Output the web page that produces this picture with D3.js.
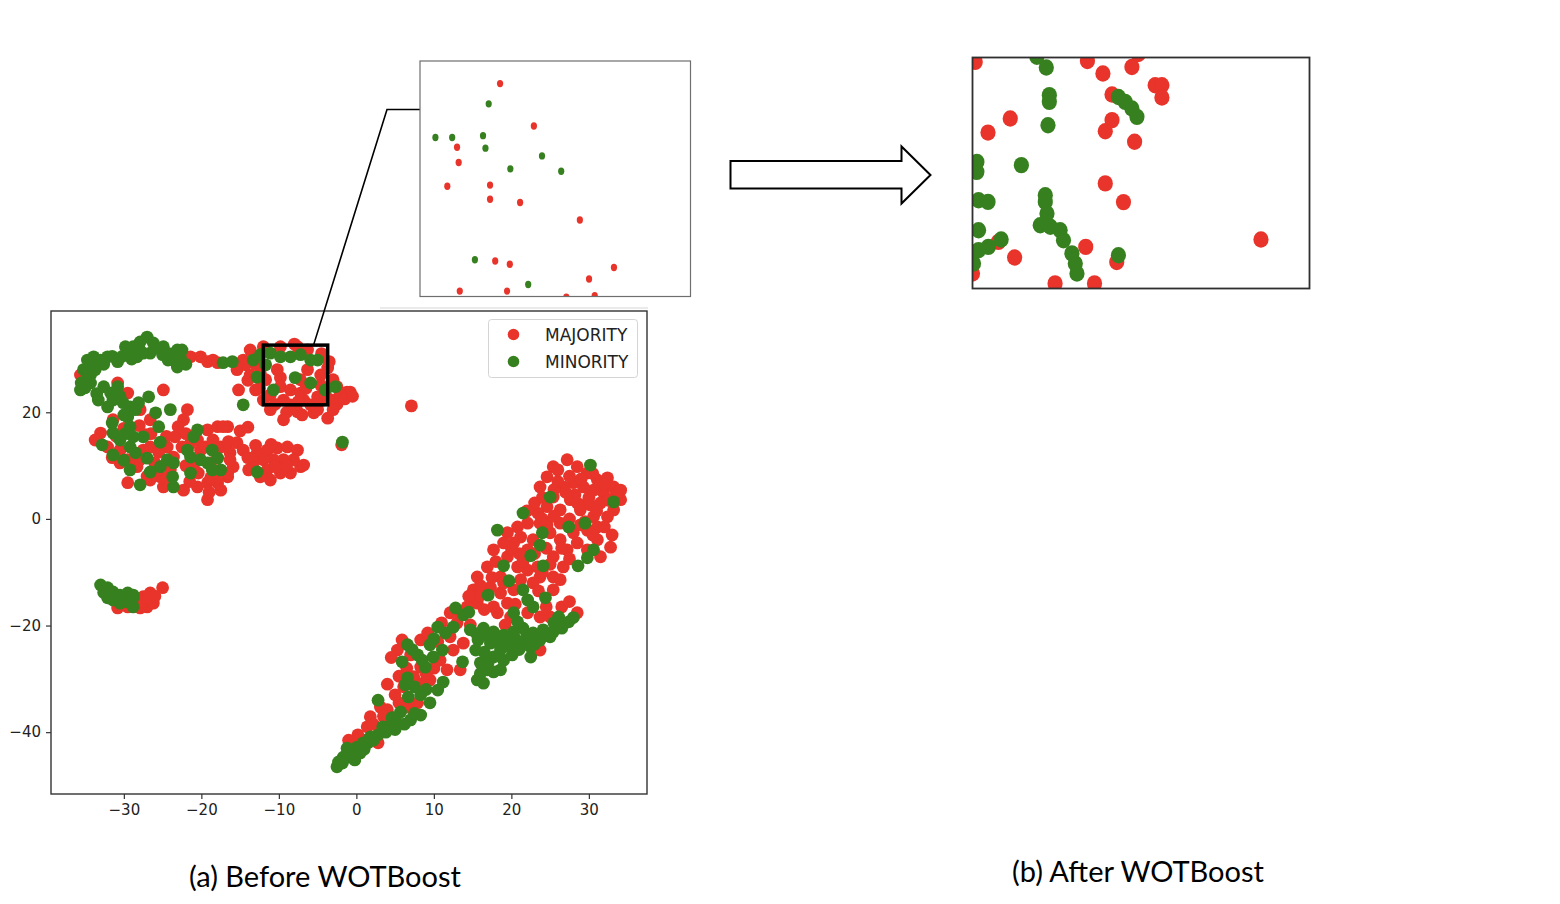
<!DOCTYPE html>
<html>
<head>
<meta charset="utf-8">
<script src="https://cdn.jsdelivr.net/npm/d3@7"></script>
<style>
  body { margin: 0; background: #fff; }
</style>
</head>
<body>
<div id="chart"></div>
<script>
// ---- data (t-SNE coordinates) ----
const majorityPts = [
  // upper-left cluster, top arc
  [-35.6, 27.0], [-21.4, 30.4], [-20.1, 30.4], [-19.2, 29.5], [-17.9, 29.3], [-18.5, 29.8],
  [-15.4, 28.0], [-14.6, 29.8], [-13.7, 31.7],
  // right lobe
  [-15.2, 24.2], [-12.0, 32.3], [-9.8, 32.3], [-7.6, 32.3], [-6.3, 31.7], [-12.4, 27.4],
  [-9.8, 26.5], [-12.0, 22.3], [-9.4, 22.3], [-6.8, 22.3], [-4.3, 22.3], [-3.0, 22.3],
  [-1.2, 23.8], [-0.8, 23.8], [-11.1, 20.5], [-9.4, 18.6], [-7.6, 20.1], [-5.5, 19.9],
  [-3.7, 18.9], [-2.5, 24.8], [-9.8, 24.8], [-8.5, 24.2], [-7.2, 23.6], [-5.0, 22.9],
  [-10.2, 28.0], [-6.3, 28.0], [-4.6, 27.0], [-3.0, 26.1], [-3.7, 28.3], [-13.7, 27.0],
  [-13.0, 24.2], [-11.1, 23.3], [-8.5, 21.4], [-5.9, 21.4], [-4.6, 25.1], [-2.1, 23.3],
  [-14.3, 28.9], [-11.7, 26.1], [-7.2, 26.1], [-1.9, 13.9], [7.1, 21.2],
  [-12.5, 24.5], [-7.0, 19.5], [-9.0, 20.0], [-5.0, 20.5], [-2.5, 21.5], [-1.5, 22.5],
  [-6.5, 24.5], [-4.0, 23.5], [-13.0, 29.0], [-14.0, 26.0], [-8.0, 32.8], [-4.5, 31.0],
  [-3.5, 29.5], [-10.5, 21.5], [-7.5, 22.0], [-3.0, 20.5], [-0.5, 23.0],
  // lower-left lobe
  [-30.8, 25.5], [-29.5, 23.6], [-24.9, 24.2], [-27.9, 20.5], [-26.6, 18.6], [-21.8, 20.5],
  [-22.3, 18.6], [-33.0, 16.1], [-32.1, 13.5], [-30.5, 12.9], [-29.5, 11.1], [-27.5, 12.9],
  [-26.6, 13.5], [-24.4, 13.5], [-23.4, 15.4], [-23.0, 17.3], [-22.5, 13.5], [-20.5, 14.8],
  [-19.2, 16.7], [-17.9, 17.3], [-16.6, 17.3], [-17.5, 13.5], [-16.3, 12.4], [-15.9, 9.8],
  [-16.6, 7.9], [-17.9, 6.8], [-19.2, 6.8], [-17.5, 5.4], [-19.2, 3.6], [-25.3, 7.9],
  [-24.9, 6.0], [-28.3, 9.8], [-26.6, 7.3], [-29.5, 6.8], [-23.6, 11.6], [-20.4, 8.6],
  [-18.8, 7.7], [-22.3, 5.4], [-33.7, 14.8], [-31.4, 18.6], [-21.0, 10.1], [-20.1, 12.9],
  [-24.0, 9.2], [-27.2, 15.8],
  [-31.0, 15.5], [-30.0, 17.0], [-28.0, 17.5], [-26.5, 16.0], [-24.5, 15.5], [-22.0, 16.0],
  [-21.5, 14.0], [-19.5, 13.5], [-18.5, 14.8], [-19.0, 5.0], [-18.0, 8.5], [-20.5, 6.0],
  [-21.5, 7.0], [-22.0, 10.0], [-25.5, 12.5], [-26.0, 10.5], [-28.0, 11.0], [-30.5, 10.5],
  [-31.5, 11.5], [-27.0, 8.0], [-24.5, 7.5], [-16.5, 14.5], [-15.0, 16.5], [-14.0, 17.2],
  // red blob right of the lower-left lobe
  [-15.4, 14.3], [-14.6, 12.9], [-12.8, 12.4], [-11.5, 12.9], [-10.2, 13.3], [-8.9, 13.5],
  [-7.6, 12.9], [-7.2, 9.8], [-8.1, 11.1], [-9.4, 11.1], [-10.7, 11.1], [-12.0, 11.1],
  [-13.3, 10.5], [-11.5, 9.2], [-9.8, 8.6], [-8.5, 8.6], [-11.1, 7.3], [-12.4, 7.9],
  [-16.6, 8.6], [-16.3, 11.1], [-18.8, 10.5], [-17.2, 17.3], [-6.8, 10.1], [-13.9, 9.2],
  [-14.0, 11.5], [-10.5, 9.8], [-9.0, 10.0], [-11.0, 14.0], [-13.0, 13.8],
  // small left cluster
  [-30.8, -16.7], [-27.5, -14.6], [-26.6, -13.9], [-27.0, -16.5], [-26.2, -15.8],
  [-27.9, -16.7], [-25.0, -12.9], [-29.5, -16.5], [-28.5, -16.1], [-26.0, -14.5],
  [-27.5, -15.5], [-26.8, -14.8],
  // lower-right cluster, upper part
  [27.2, 11.1], [25.4, 9.8], [24.6, 7.9], [23.7, 6.0], [28.5, 9.8], [29.8, 8.6], [31.1, 7.3],
  [32.4, 7.7], [33.2, 6.0], [34.1, 5.4], [31.9, 4.9], [30.6, 5.4], [29.3, 6.0], [28.0, 6.8],
  [26.7, 6.0], [25.4, 4.1], [27.6, 3.6], [29.8, 3.0], [31.5, 3.0], [33.2, 1.7], [32.4, 0.4],
  [30.6, 0.4], [28.9, 1.7], [26.3, 1.7], [24.6, 2.3], [23.4, 1.1], [22.1, -0.8], [20.8, -1.5],
  [21.2, -3.4], [22.8, -3.9], [25.0, -2.6], [26.3, -3.9], [28.0, -2.6], [29.8, -2.1],
  [31.1, -1.5], [31.1, -3.9], [32.8, -5.3], [31.5, -7.1], [29.8, -5.8], [27.2, -5.8],
  [25.4, -7.1], [26.7, -9.0], [25.4, -10.9], [26.3, -11.4], [23.7, -10.9], [22.1, -9.6],
  [20.8, -9.0], [19.5, -7.1], [17.7, -5.8], [16.9, -9.0], [18.6, -10.9], [15.6, -10.9],
  [15.1, -13.3], [17.3, -12.8], [18.6, -13.9], [20.3, -13.3], [19.5, -15.8], [17.7, -16.5],
  [15.6, -15.8], [14.3, -16.5], [12.1, -17.6], [13.0, -19.5], [21.2, -11.4], [22.8, -12.0],
  [23.4, -9.0], [22.1, -5.8], [20.3, -4.5], [19.5, -2.6], [26.3, -0.8], [23.7, -0.8],
  [25.4, -13.3], [25.0, -18.4], [28.5, -17.6], [23.7, -18.4], [22.1, -17.6], [19.9, -18.4],
  [18.2, -17.6], [16.0, -14.3], [26.0, 9.2], [31.5, 6.4], [28.2, 4.5], [34.1, 3.6],
  [24.6, -1.1], [28.9, -1.1], [30.2, 2.6],
  [26.0, 7.0], [27.5, 8.0], [29.0, 7.5], [30.5, 8.5], [32.0, 6.5], [33.5, 4.5], [32.5, 3.5],
  [30.0, 4.0], [28.5, 3.0], [27.0, 5.0], [25.5, 5.5], [24.0, 4.0], [23.0, 3.0], [22.0, 1.5],
  [24.0, 0.0], [25.5, 0.5], [27.5, 0.0], [29.5, -0.5], [31.0, 1.5], [32.0, -1.5], [33.0, -3.0],
  [30.5, -3.0], [28.5, -4.5], [26.5, -5.5], [24.5, -5.5], [23.0, -6.5], [21.0, -6.5],
  [20.0, -5.5], [21.5, -8.0], [24.0, -10.0], [25.0, -8.5], [27.5, -7.5], [19.0, -12.0],
  [17.5, -11.0], [16.0, -12.5], [14.5, -14.5], [16.5, -17.0], [13.5, -18.0], [20.5, -16.0],
  [23.5, -13.5], [24.5, -16.5], [26.5, -16.5], [27.5, -15.5], [18.0, -8.0], [19.0, -4.5],
  // lower-right cluster, middle band
  [23.7, -24.6], [16.9, -26.5], [13.8, -23.3], [22.1, -23.6], [19.2, -19.9], [14.7, -19.9],
  // lower-right cluster, lower-left part
  [5.3, -24.6], [5.9, -22.7], [8.3, -22.7], [9.2, -21.4], [12.1, -22.1], [12.5, -24.6],
  [8.3, -27.8], [7.4, -29.6], [6.1, -31.5], [8.6, -30.8], [11.7, -28.3], [13.4, -28.3],
  [9.5, -30.2], [7.9, -34.5], [7.0, -25.5], [10.8, -26.5], [5.0, -33.0],
  [4.5, -26.0], [6.5, -28.0], [9.0, -29.0], [10.0, -28.0], [5.5, -29.5], [4.0, -31.0],
  [10.5, -23.0], [11.0, -19.5],
  // bottom tail
  [3.1, -35.3], [1.8, -37.1], [1.4, -39.0], [4.0, -35.8], [0.9, -41.5], [2.8, -42.0],
  [4.4, -37.1], [-0.4, -42.0], [6.6, -35.3], [2.2, -38.5], [3.5, -37.0], [0.2, -40.5],
  [5.5, -34.5], [-1.0, -41.5]
];

const minorityPts = [
  // top arc
  [-35.2, 28.0], [-34.7, 29.8], [-33.9, 30.4], [-33.0, 29.8], [-32.1, 30.4], [-30.8, 29.5],
  [-29.5, 31.1], [-28.8, 32.3], [-27.9, 33.2], [-27.0, 34.1], [-26.2, 33.0], [-26.6, 31.1],
  [-27.5, 31.1], [-28.3, 30.4], [-24.9, 32.3], [-23.6, 29.8], [-23.1, 31.7], [-22.5, 31.7],
  [-22.7, 30.2], [-23.1, 28.5], [-24.3, 29.8], [-17.2, 29.3], [-16.0, 29.5], [-34.3, 27.0],
  [-33.7, 28.0], [-35.0, 24.6], [-29.8, 32.3],
  [-34.0, 28.8], [-32.6, 29.0], [-31.5, 30.5], [-30.2, 30.5], [-29.0, 30.0], [-28.0, 31.8],
  [-26.0, 32.0], [-25.0, 30.8], [-24.2, 31.0], [-22.0, 29.0], [-34.8, 26.0], [-35.5, 25.5],
  // right lobe
  [-13.3, 29.8], [-12.8, 26.6], [-10.7, 24.2], [-7.9, 26.5], [-5.9, 25.5], [-4.0, 24.2],
  [-2.7, 24.8], [-9.8, 30.4], [-8.5, 30.4], [-7.2, 30.8], [-5.9, 29.8], [-5.0, 29.8],
  [-11.1, 31.1], [-14.6, 21.4], [-1.8, 14.4], [-12.4, 30.8], [-11.7, 28.9],
  // lower-left lobe
  [-35.6, 24.2], [-34.3, 25.5], [-32.6, 24.8], [-31.7, 23.6], [-30.8, 24.8], [-32.1, 21.0],
  [-31.4, 22.3], [-30.1, 21.8], [-29.2, 21.0], [-28.1, 21.8], [-26.8, 22.9], [-25.9, 19.9],
  [-24.0, 20.5], [-31.5, 18.0], [-29.5, 19.1], [-29.2, 17.3], [-31.4, 16.1], [-28.8, 15.4],
  [-27.5, 15.4], [-25.5, 17.3], [-25.3, 14.4], [-32.8, 13.9], [-30.5, 14.8], [-29.2, 13.5],
  [-31.4, 12.0], [-28.5, 12.4], [-27.0, 11.4], [-29.2, 9.2], [-26.6, 8.8], [-25.3, 9.8],
  [-24.4, 11.1], [-23.6, 10.5], [-23.7, 7.9], [-23.6, 6.0], [-27.9, 6.4], [-21.8, 12.9],
  [-20.5, 16.7], [-21.0, 15.4], [-21.4, 11.6], [-20.1, 11.1], [-21.4, 8.6], [-19.2, 10.5],
  [-18.6, 12.9], [-17.9, 11.4], [-17.5, 9.2], [-18.6, 9.2], [-12.8, 8.8], [-33.3, 22.3],
  [-30.0, 19.5], [-28.5, 20.5], [-30.5, 23.0], [-33.5, 23.5], [-29.8, 16.0], [-30.0, 11.0],
  // small left cluster
  [-33.0, -12.4], [-32.1, -12.9], [-31.4, -13.7], [-30.5, -14.3], [-29.5, -13.9],
  [-28.8, -14.3], [-32.1, -14.8], [-31.4, -15.2], [-30.5, -15.8], [-29.5, -15.6],
  [-28.8, -16.5], [-28.8, -14.8], [-32.6, -13.8], [-30.0, -15.0], [-31.0, -14.5],
  [-29.0, -15.5],
  // lower-right cluster, upper part
  [30.2, 10.1], [25.0, 4.1], [33.2, 3.2], [21.5, 1.1], [18.2, -2.1], [24.0, -2.6],
  [27.4, -1.5], [29.5, -0.8], [23.7, -4.9], [22.5, -6.9], [24.1, -8.8], [30.6, -5.8],
  [29.8, -7.3], [28.6, -8.8], [19.0, -8.8], [19.7, -11.6], [17.0, -14.3], [21.5, -13.3],
  [22.1, -15.2], [22.8, -16.5], [24.4, -14.8],
  // middle band
  [12.8, -16.7], [13.8, -18.0], [16.4, -20.5], [17.7, -21.2], [19.0, -21.8], [20.3, -21.2],
  [21.5, -20.5], [22.8, -21.4], [24.1, -20.8], [25.4, -21.2], [26.3, -19.5], [27.4, -19.3],
  [26.1, -18.4], [20.3, -17.6], [20.8, -19.3], [15.7, -22.7], [15.4, -24.6], [16.0, -27.0],
  [16.9, -28.3], [15.6, -30.2], [16.4, -30.8], [17.7, -28.7], [18.6, -28.3], [17.7, -25.9],
  [18.6, -24.6], [19.9, -24.0], [21.2, -23.3], [22.5, -24.0], [23.7, -22.7], [25.0, -22.1],
  [22.5, -25.9], [20.1, -25.5], [19.0, -22.7], [17.3, -23.3], [13.7, -26.8], [14.7, -20.8],
  [14.5, -17.5], [15.5, -21.5], [17.0, -22.0], [18.0, -23.0], [20.5, -22.5], [22.0, -22.0],
  [23.0, -23.5], [24.5, -21.8], [16.5, -25.0], [16.0, -29.0], [17.0, -27.0], [19.0, -26.5],
  [21.0, -24.5], [26.5, -20.5], [25.5, -19.5], [28.0, -18.5],
  // lower-left part
  [6.6, -23.6], [7.9, -25.5], [9.5, -23.6], [10.5, -20.3], [11.5, -21.4], [12.5, -20.3],
  [11.1, -24.6], [9.9, -25.9], [8.9, -27.8], [5.9, -26.8], [6.6, -29.8], [11.2, -30.6],
  [10.5, -32.1], [9.5, -34.5], [8.3, -33.0], [6.7, -33.4], [2.8, -34.0], [6.3, -31.1],
  [7.2, -24.5], [8.5, -26.5], [10.0, -22.5], [7.5, -31.5], [9.0, -32.0],
  // bottom tail
  [8.3, -36.8], [7.0, -37.7], [5.7, -36.2], [5.3, -38.3], [4.1, -39.0], [3.4, -39.0],
  [2.8, -40.5], [1.8, -40.9], [1.5, -42.0], [0.1, -42.8], [-0.4, -43.7], [-1.2, -43.0],
  [-1.7, -44.7], [-2.3, -45.6], [-2.5, -46.5], [-0.8, -44.7], [0.5, -43.9], [4.6, -37.3],
  [0.9, -42.0], [2.2, -41.5], [3.8, -40.0], [5.0, -39.5], [6.2, -38.5], [7.5, -36.5],
  [-1.8, -45.8], [-0.2, -45.2], [1.0, -43.2]
];

const xTicks = [-30, -20, -10, 0, 10, 20, 30];
const yTicks = [20, 0, -20, -40];
const xDomain = [-39.4, 37.5];
const yDomain = [-51.6, 39.0];
// zoom window marked on the main plot: [xmin, ymin], [xmax, ymax]
const zoomBox = [[-12.0, 21.4], [-3.7, 32.6]];

// magnified views, local units 0..100 inside each box
const inset1Majority = [
  [29.6, 90.4], [42.1, 72.4], [13.7, 63.4], [14.3, 56.9], [10.1, 46.8], [25.9, 47.3],
  [25.9, 41.3], [37.0, 39.9], [59.1, 32.5], [27.8, 15.1], [33.2, 13.7], [71.7, 12.3],
  [62.5, 7.4], [14.7, 2.3], [32.2, 2.3], [54.1, -0.3], [64.6, 0.3]
];
const inset1Minority = [
  [25.4, 81.8], [5.7, 67.5], [11.9, 67.5], [23.3, 68.3], [24.2, 63.0], [45.1, 59.7],
  [33.4, 54.2], [52.2, 53.2], [20.3, 15.6], [40.0, 5.1]
];
const inset2Majority = [
  [0.8, 98.1], [34.1, 98.5], [38.7, 93.1], [47.3, 95.9], [54.2, 88.0], [56.2, 88.0],
  [56.2, 82.7], [41.4, 84.0], [41.4, 72.9], [39.4, 68.1], [48.1, 63.5], [11.2, 73.6],
  [4.6, 67.5], [39.4, 45.5], [44.8, 37.4], [85.6, 21.2], [33.6, 18.0], [12.5, 13.4],
  [42.8, 11.5], [7.7, 20.2], [24.5, 2.2], [36.2, 2.2], [0.0, 6.5], [49.2, 101.5]
];
const inset2Minority = [
  [19.1, 100.3], [21.9, 95.7], [22.8, 83.7], [22.8, 80.8], [22.4, 70.7], [43.3, 82.9],
  [45.3, 80.8], [47.3, 77.9], [48.8, 74.3], [14.5, 53.4], [1.3, 54.8], [1.3, 50.5],
  [1.8, 38.2], [4.6, 37.5], [21.6, 40.4], [21.6, 37.5], [22.1, 32.5], [20.1, 27.4],
  [23.1, 26.7], [26.0, 25.2], [27.0, 20.9], [29.5, 15.2], [30.5, 10.8], [31.0, 6.5],
  [1.8, 25.2], [1.8, 16.6], [4.7, 18.0], [8.5, 21.2], [43.3, 14.4], [0.3, 10.8]
];

const legendLabels = ["MAJORITY", "MINORITY"];
const captions = ["(a) Before WOTBoost", "(b) After WOTBoost"];

// ---- drawing ----
const width = 1560;
const height = 904;
const RED = "#e8342a";
const GREEN = "#37801f";

const svg = d3.select("#chart")
  .append("svg")
  .attr("width", width)
  .attr("height", height)
  .style("font-family", "'DejaVu Sans', sans-serif");

svg.append("rect").attr("width", width).attr("height", height).attr("fill", "#fff");

// main scatter frame
const plot = { left: 51, right: 647, top: 311, bottom: 794 };
const x = d3.scaleLinear().domain(xDomain).range([plot.left, plot.right]);
const y = d3.scaleLinear().domain(yDomain).range([plot.bottom, plot.top]);

// faint edge line above the main plot
svg.append("line")
  .attr("x1", 380).attr("x2", 648).attr("y1", 308).attr("y2", 308)
  .attr("stroke", "#d6d6d6").attr("stroke-width", 1.2);

svg.append("clipPath").attr("id", "clip-main")
  .append("rect")
  .attr("x", plot.left).attr("y", plot.top)
  .attr("width", plot.right - plot.left).attr("height", plot.bottom - plot.top);

const dots = svg.append("g").attr("clip-path", "url(#clip-main)");
dots.selectAll("circle.maj")
  .data(majorityPts)
  .join("circle")
  .attr("class", "maj")
  .attr("cx", d => x(d[0]))
  .attr("cy", d => y(d[1]))
  .attr("r", 6.4)
  .attr("fill", RED);
dots.selectAll("circle.min")
  .data(minorityPts)
  .join("circle")
  .attr("class", "min")
  .attr("cx", d => x(d[0]))
  .attr("cy", d => y(d[1]))
  .attr("r", 6.4)
  .attr("fill", GREEN);

// axes
const xAxis = svg.append("g")
  .attr("transform", `translate(0,${plot.bottom})`)
  .call(d3.axisBottom(x).tickValues(xTicks).tickSize(5).tickPadding(5).tickSizeOuter(0));
const yAxis = svg.append("g")
  .attr("transform", `translate(${plot.left},0)`)
  .call(d3.axisLeft(y).tickValues(yTicks).tickSize(5).tickPadding(5).tickSizeOuter(0));
[xAxis, yAxis].forEach(g => {
  g.attr("font-size", null).attr("font-family", null);
  g.select(".domain").remove();
  g.selectAll(".tick line").attr("stroke", "#333").attr("stroke-width", 1.2);
  g.selectAll(".tick text")
    .attr("fill", "#222")
    .style("font-size", "15px")
    .style("font-family", "'DejaVu Sans', sans-serif");
});

svg.append("rect")
  .attr("x", plot.left).attr("y", plot.top)
  .attr("width", plot.right - plot.left).attr("height", plot.bottom - plot.top)
  .attr("fill", "none").attr("stroke", "#333").attr("stroke-width", 1.4);

// legend
const legend = svg.append("g");
legend.append("rect")
  .attr("x", 488.5).attr("y", 319.5).attr("width", 149).attr("height", 58)
  .attr("rx", 3).attr("fill", "#fff").attr("stroke", "#d4d4d4");
legendLabels.forEach((label, i) => {
  legend.append("circle")
    .attr("cx", 513.5).attr("cy", 334.5 + i * 27).attr("r", 5.8)
    .attr("fill", i === 0 ? RED : GREEN);
  legend.append("text")
    .attr("x", 545).attr("y", 341 + i * 27)
    .style("font-size", "17px")
    .attr("fill", "#222")
    .text(label);
});

// zoom window and connector
const zx0 = x(zoomBox[0][0]), zx1 = x(zoomBox[1][0]);
const zy0 = y(zoomBox[1][1]), zy1 = y(zoomBox[0][1]);
svg.append("rect")
  .attr("x", zx0).attr("y", zy0)
  .attr("width", zx1 - zx0).attr("height", zy1 - zy0)
  .attr("fill", "none").attr("stroke", "#000").attr("stroke-width", 3.5);

const inset1 = { left: 420, right: 690.5, top: 61, bottom: 296.5 };
const inset2 = { left: 972.5, right: 1309.5, top: 57.5, bottom: 288.5 };

svg.append("path")
  .attr("d", `M${zx0 + (zx1 - zx0) * 0.78},${zy0} L387,109.5 L${inset1.left},109.5`)
  .attr("fill", "none").attr("stroke", "#000").attr("stroke-width", 1.6);

// inset drawing helper
function drawInset(box, id, majority, minority, rx, ry, stroke, sw) {
  const ix = d3.scaleLinear().domain([0, 100]).range([box.left, box.right]);
  const iy = d3.scaleLinear().domain([0, 100]).range([box.bottom, box.top]);
  svg.append("clipPath").attr("id", id)
    .append("rect")
    .attr("x", box.left).attr("y", box.top)
    .attr("width", box.right - box.left).attr("height", box.bottom - box.top);
  const g = svg.append("g").attr("clip-path", `url(#${id})`);
  g.append("rect")
    .attr("x", box.left).attr("y", box.top)
    .attr("width", box.right - box.left).attr("height", box.bottom - box.top)
    .attr("fill", "#fff");
  [[majority, RED], [minority, GREEN]].forEach(([pts, col]) => {
    g.append("g").selectAll("ellipse")
      .data(pts)
      .join("ellipse")
      .attr("cx", d => ix(d[0]))
      .attr("cy", d => iy(d[1]))
      .attr("rx", rx).attr("ry", ry)
      .attr("fill", col);
  });
  svg.append("rect")
    .attr("x", box.left).attr("y", box.top)
    .attr("width", box.right - box.left).attr("height", box.bottom - box.top)
    .attr("fill", "none").attr("stroke", stroke).attr("stroke-width", sw);
}

drawInset(inset1, "clip-in1", inset1Majority, inset1Minority, 3.1, 3.7, "#6e6e6e", 1.2);
drawInset(inset2, "clip-in2", inset2Majority, inset2Minority, 7.6, 8.2, "#2f2f2f", 1.8);

// hollow arrow between the views
const arrow = [[730.5, 161], [901.5, 161], [901.5, 146.5], [930.5, 175], [901.5, 203.5],
               [901.5, 188.5], [730.5, 188.5]];
svg.append("path")
  .attr("d", d3.line()(arrow) + "Z")
  .attr("fill", "#fff").attr("stroke", "#000").attr("stroke-width", 2);

// captions
svg.append("text")
  .attr("x", 325).attr("y", 887)
  .attr("text-anchor", "middle")
  .style("font-family", "Lato, 'Open Sans', sans-serif")
  .style("font-size", "29px")
  .attr("fill", "#000")
  .text(captions[0]);
svg.append("text")
  .attr("x", 1138).attr("y", 882)
  .attr("text-anchor", "middle")
  .style("font-family", "Lato, 'Open Sans', sans-serif")
  .style("font-size", "29px")
  .attr("fill", "#000")
  .text(captions[1]);
</script>
</body>
</html>
